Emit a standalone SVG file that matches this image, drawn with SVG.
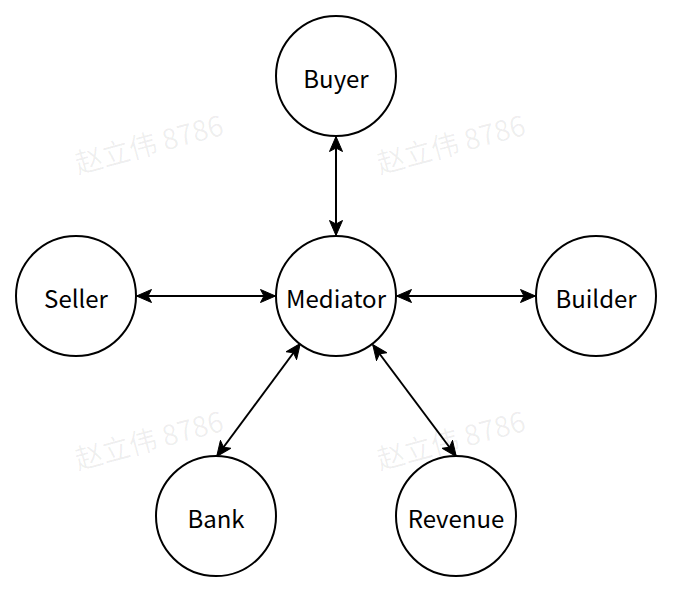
<svg xmlns="http://www.w3.org/2000/svg" width="674" height="594" viewBox="0 0 674 594">
<defs>
<style>
.node circle{fill:#fff;stroke:#000;stroke-width:2}
.node text{font-family:"Noto Sans CJK SC","Noto Sans",sans-serif;font-size:24px;fill:#000;text-anchor:middle;dominant-baseline:central}
.wm{font-family:"Noto Sans CJK SC","Noto Sans",sans-serif;font-size:28px;fill:#000;fill-opacity:0.065}
.edge{stroke:#000;stroke-width:2;fill:none;marker-start:url(#ah);marker-end:url(#ah)}
</style>
<marker id="ah" viewBox="0 0 16 14" refX="15" refY="7" markerWidth="16" markerHeight="14" markerUnits="userSpaceOnUse" orient="auto-start-reverse">
<path d="M0.5,0.5 L15.5,7 L0.5,13.5 L4,7 Z" fill="#000" stroke="#000" stroke-width="1"/>
</marker>
</defs>
<rect width="674" height="594" fill="#fff"/>
<g id="watermarks">
<text class="wm" x="78" y="174" transform="rotate(-15 78 174)">赵立伟 8786</text>
<text class="wm" x="380" y="174" transform="rotate(-15 380 174)">赵立伟 8786</text>
<text class="wm" x="78" y="470" transform="rotate(-15 78 470)">赵立伟 8786</text>
<text class="wm" x="380" y="470" transform="rotate(-15 380 470)">赵立伟 8786</text>
</g>
<g id="connectors">
<line class="edge" x1="336" y1="137" x2="336" y2="235"/>
<line class="edge" x1="137" y1="296" x2="275" y2="296"/>
<line class="edge" x1="397" y1="296" x2="535" y2="296"/>
<line class="edge" x1="300" y1="344" x2="217" y2="456"/>
<line class="edge" x1="373" y1="345" x2="456" y2="456"/>
</g>
<g id="buyer" class="node"><circle cx="336" cy="76" r="60"/><text x="336" y="77">Buyer</text></g>
<g id="seller" class="node"><circle cx="76" cy="296" r="60"/><text x="76" y="297">Seller</text></g>
<g id="mediator" class="node"><circle cx="336" cy="296" r="60"/><text x="336" y="297">Mediator</text></g>
<g id="builder" class="node"><circle cx="596" cy="296" r="60"/><text x="596" y="297">Builder</text></g>
<g id="bank" class="node"><circle cx="216" cy="516" r="60"/><text x="216" y="517">Bank</text></g>
<g id="revenue" class="node"><circle cx="456" cy="516" r="60"/><text x="456" y="517">Revenue</text></g>
</svg>
